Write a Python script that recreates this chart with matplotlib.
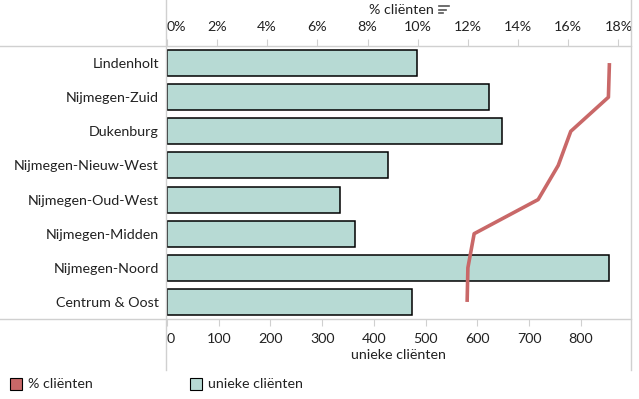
import matplotlib
matplotlib.use("Agg")
import matplotlib.pyplot as plt
from matplotlib.lines import Line2D
from matplotlib.patches import Rectangle

plt.rcParams['font.family'] = ['Lato', 'DejaVu Sans']

categories = ["Lindenholt", "Nijmegen-Zuid", "Dukenburg", "Nijmegen-Nieuw-West",
              "Nijmegen-Oud-West", "Nijmegen-Midden", "Nijmegen-Noord", "Centrum & Oost"]
unieke_clienten = [483, 622, 647, 427, 335, 363, 854, 474]
pct_clienten = [17.64, 17.6, 16.1, 15.6, 14.8, 12.25, 12.0, 11.97]
bottom_ticks = [0, 100, 200, 300, 400, 500, 600, 700, 800]
top_ticks = [0, 2, 4, 6, 8, 10, 12, 14, 16, 18]

W, H = 639, 399
fig = plt.figure(figsize=(W / 100, H / 100), dpi=100)
L, R, T, B = 166, 631, 46, 319
ax = fig.add_axes([L / W, 1 - B / H, (R - L) / W, (B - T) / H])

bar_color = "#b7dad4"
line_color = "#c96868"
grid_gray = "#d0d0d0"
text_color = "#222222"

y = list(range(len(categories)))
ax.barh(y, unieke_clienten, height=0.76, color=bar_color, edgecolor="black", linewidth=1.1, zorder=2)
ax.set_ylim(len(categories) - 0.5, -0.5)
ax.set_xlim(-2, 897)
ax.set_yticks(y)
ax.set_yticklabels(categories, fontsize=10.3, color=text_color)
ax.tick_params(axis='y', length=0, pad=5)
ax.set_xticks(bottom_ticks)
ax.set_xticklabels([str(t) for t in bottom_ticks], fontsize=10.3, color=text_color)
ax.tick_params(axis='x', length=5, color=grid_gray, pad=5)
ax.get_xticklabels()[0].set_ha('left')
ax.set_xlabel("unieke cliënten", fontsize=10.3, color=text_color, labelpad=3)
for s in ax.spines.values():
    s.set_visible(False)

ax2 = ax.twiny()
ax2.plot(pct_clienten, y, color=line_color, linewidth=2.6, solid_capstyle='butt', zorder=3)
ax2.set_xlim(-0.03, 18.5)
ax2.set_xticks(top_ticks)
ax2.set_xticklabels([f"{t}%" for t in top_ticks], fontsize=10.3, color=text_color)
ax2.tick_params(axis='x', length=5, color=grid_gray, pad=4.5)
ax2.get_xticklabels()[0].set_ha('left')
for s in ax2.spines.values():
    s.set_visible(False)

# frame lines like Tableau
def hline(yp, x0, x1):
    fig.add_artist(Line2D([x0 / W, x1 / W], [1 - yp / H, 1 - yp / H], color=grid_gray, lw=1.0))

def vline(xp, y0, y1):
    fig.add_artist(Line2D([xp / W, xp / W], [1 - y0 / H, 1 - y1 / H], color=grid_gray, lw=1.0))

hline(T, 0, R)
hline(B, 0, R)
vline(L, 0, 370)
vline(R, 0, 370)

# top title with sort icon
fig.text(401 / W, 1 - 10 / H, "% cliënten", fontsize=10.3, color=text_color, ha='center', va='center')
for i, ln in enumerate([10, 7, 4]):
    yy = 1 - (6 + i * 3.5) / H
    fig.add_artist(Line2D([439 / W, (439 + ln) / W], [yy, yy], color="#555555", lw=1.2))

# legend
fig.add_artist(Rectangle((10 / W, 1 - 390 / H), 12 / W, 12 / H, facecolor=line_color,
                         edgecolor="black", linewidth=0.8))
fig.text(28 / W, 1 - 384 / H, "% cliënten", fontsize=10.3, color=text_color, va='center')
fig.add_artist(Rectangle((190 / W, 1 - 390 / H), 12 / W, 12 / H, facecolor=bar_color,
                         edgecolor="black", linewidth=0.8))
fig.text(208 / W, 1 - 384 / H, "unieke cliënten", fontsize=10.3, color=text_color, va='center')

fig.savefig("out.png", dpi=100)
